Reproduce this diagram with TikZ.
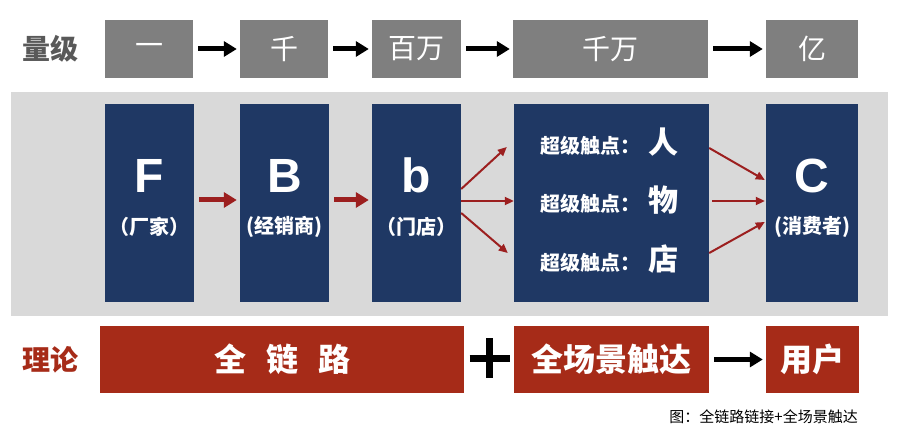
\documentclass[tikz,border=0pt]{standalone}
\usepackage{fontspec}
\setmainfont{Liberation Sans}
\newfontfamily\cjk{Noto Sans CJK SC}
\usetikzlibrary{arrows.meta}

\definecolor{boxgray}{HTML}{7F7F7F}
\definecolor{labelgray}{HTML}{595959}
\definecolor{panelgray}{HTML}{D9D9D9}
\definecolor{navy}{HTML}{1F3864}
\definecolor{brick}{HTML}{A62B18}
\definecolor{arrowred}{HTML}{9C1F1F}

\begin{document}
\begin{tikzpicture}[x=1pt,y=-1pt,
		rowlabel/.style={font=\cjk\bfseries\fontsize{28}{28}\selectfont},
		graybox/.style={fill=boxgray, text=white, minimum height=58pt, inner sep=0pt,
			font=\cjk\fontsize{28}{28}\selectfont},
		bluebox/.style={fill=navy, minimum height=198pt, inner sep=0pt},
		letter/.style={anchor=base, text=white, inner sep=0pt, font=\bfseries\fontsize{48}{48}\selectfont},
		role/.style={text=white, inner sep=0pt, font=\cjk\bfseries\fontsize{20}{20}\selectfont},
		redbox/.style={fill=brick, text=white, minimum height=67pt, inner sep=0pt,
			font=\cjk\bfseries\fontsize{32}{32}\selectfont},
		touch/.style={text=white, inner sep=0pt, font=\cjk\bfseries\fontsize{20}{20}\selectfont},
		bigarrow/.style={line width=5pt, -{Triangle[length=13pt,width=15pt]}, shorten <=5pt, shorten >=3pt},
		fanarrow/.style={arrowred, line width=2pt, -{Triangle[length=9pt,width=8pt]}},
	]
		\useasboundingbox (0,0) rectangle (898,441);
		\newcommand{\point}[1]{超级触点：\hspace{8pt}{\fontsize{30}{30}\selectfont #1}}
		
		% row labels
		\node[rowlabel, text=labelgray] (lvl) at (51,49) {量级};
		\node[rowlabel, text=navy] (tier) at (51,200) {层级};
		\node[rowlabel, text=brick] (theory) at (51,360) {理论};
		
		% top row
		\node[graybox, minimum width=88pt] (one) at (149,49) {一};
		\node[graybox, minimum width=88pt] (thou) at (284,49) {千};
		\node[graybox, minimum width=89pt] (mil) at (416.5,49) {百万};
		\node[graybox, minimum width=195pt] (tenmil) at (610.5,49) {千万};
		\node[graybox, minimum width=92pt] (yi) at (812,49) {亿};
		\draw[bigarrow] (one) -- (thou);
		\draw[bigarrow] (thou) -- (mil);
		\draw[bigarrow] (mil) -- (tenmil);
		\draw[bigarrow] (tenmil) -- (yi);
		
		% middle row
		\fill[panelgray] (11,92) rectangle (888,316);
		\node[bluebox, minimum width=89pt] (F) at (149.5,203) {};
		\node[bluebox, minimum width=89pt] (B) at (284.5,203) {};
		\node[bluebox, minimum width=89pt] (b) at (416.5,203) {};
		\node[bluebox, minimum width=195pt] (S) at (611.5,203) {};
		\node[bluebox, minimum width=92pt] (C) at (812,203) {};
		\node[letter] (Fl) at (149.5,193) {F};
		\node[letter] (Bl) at (284.5,193) {B};
		\node[letter] (bl) at (416.5,193) {b};
		\node[letter] (Cl) at (812,193) {C};
		\node[role] (Fr) at (149.5,227) {（厂家）};
		\node[role] (Br) at (284.5,227) {(经销商)};
		\node[role] (br) at (416.5,227) {（门店）};
		\node[role] (Cr) at (812,227) {(消费者)};
		\node[touch] (s1) at (609.5,142) {\point{人}};
		\node[touch] (s2) at (609.5,200) {\point{物}};
		\node[touch] (s3) at (609.5,259) {\point{店}};
		\draw[bigarrow, arrowred] ([yshift=3pt]F.east) -- ([yshift=3pt]B.west);
		\draw[bigarrow, arrowred] ([yshift=3pt]B.east) -- ([yshift=3pt]b.west);
		\draw[fanarrow] ([yshift=14pt]b.east) -- ([xshift=-7pt,yshift=56pt]S.west);
		\draw[fanarrow] ([yshift=2pt]b.east) -- ([yshift=2pt]S.west);
		\draw[fanarrow] ([yshift=-10pt]b.east) -- ([xshift=-6pt,yshift=-50pt]S.west);
		\draw[fanarrow] ([yshift=55pt]S.east) -- ([xshift=-1pt,yshift=23pt]C.west);
		\draw[fanarrow] ([xshift=3pt,yshift=2pt]S.east) -- ([xshift=-1pt,yshift=2pt]C.west);
		\draw[fanarrow] ([yshift=-50pt]S.east) -- ([xshift=-1pt,yshift=-19pt]C.west);
		
		% bottom row
		\node[redbox, minimum width=364pt] (chain) at (282,359.5) {全\hspace{20pt}链\hspace{20pt}路};
		\node[redbox, minimum width=195pt] (scene) at (611.5,359.5) {全场景触达};
		\node[redbox, minimum width=93pt] (user) at (812.5,359.5) {用户};
		\coordinate (plus) at (489.5,358);
		\draw[line width=7pt] ([xshift=-20pt]plus) -- ([xshift=20pt]plus);
		\draw[line width=7pt] ([yshift=20pt]plus) -- ([yshift=-20pt]plus);
		\draw[bigarrow] (scene) -- (user);
		
		\node[anchor=east, inner sep=0pt, font=\cjk\fontsize{15}{15}\selectfont] (cap) at (858,417) {图：全链路链接+全场景触达};
\end{tikzpicture}
\end{document}
